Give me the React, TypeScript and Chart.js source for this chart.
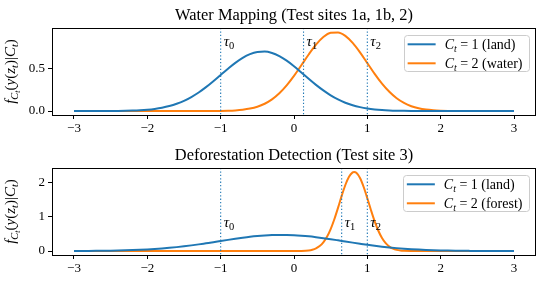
import React, { useEffect, useRef } from 'react';
import { Chart, registerables } from 'chart.js';

Chart.register(...registerables);

// ---------- data ----------
const xGrid = [
  -3.0, -2.9, -2.8, -2.7, -2.6, -2.5, -2.4, -2.3, -2.2, -2.1, -2.0,
  -1.9, -1.8, -1.7, -1.6, -1.5, -1.4, -1.3, -1.2, -1.1, -1.0,
  -0.9, -0.8, -0.7, -0.6, -0.5, -0.4, -0.3, -0.2, -0.1, 0.0,
  0.1, 0.2, 0.3, 0.4, 0.5, 0.6, 0.7, 0.8, 0.9, 1.0,
  1.1, 1.2, 1.3, 1.4, 1.5, 1.6, 1.7, 1.8, 1.9, 2.0,
  2.1, 2.2, 2.3, 2.4, 2.5, 2.6, 2.7, 2.8, 2.9, 3.0,
];

const waterLand = [
  0.0, 0.0001, 0.0001, 0.0003, 0.0005, 0.001, 0.0018, 0.0032, 0.0056, 0.0096, 0.0158,
  0.0252, 0.039, 0.0585, 0.0851, 0.12, 0.165, 0.218, 0.281, 0.351, 0.425,
  0.498, 0.567, 0.626, 0.67, 0.695, 0.699, 0.682, 0.645, 0.592, 0.527,
  0.454, 0.38, 0.308, 0.243, 0.185, 0.137, 0.098, 0.068, 0.046, 0.03,
  0.019, 0.0117, 0.007, 0.004, 0.0023, 0.0012, 0.0006, 0.0003, 0.0002, 0.0001,
  0, 0, 0, 0, 0, 0, 0, 0, 0, 0,
];

const waterWater = [
  0, 0, 0, 0, 0, 0, 0, 0, 0, 0, 0,
  0, 0, 0, 0, 0, 0, 0.0001, 0.0003, 0.0008, 0.0017,
  0.0037, 0.0078, 0.0154, 0.0288, 0.051, 0.086, 0.137, 0.209, 0.302, 0.413,
  0.538, 0.665, 0.781, 0.87, 0.92, 0.925, 0.884, 0.801, 0.69, 0.564,
  0.437, 0.322, 0.226, 0.15, 0.095, 0.057, 0.0324, 0.0176, 0.009, 0.0043,
  0.002, 0.0009, 0.0004, 0.0002, 0, 0, 0, 0, 0, 0,
];

const forestLand = [
  0.0018, 0.0027, 0.0039, 0.0056, 0.0079, 0.011, 0.0151, 0.0204, 0.0271, 0.0357, 0.0463,
  0.0593, 0.0747, 0.093, 0.114, 0.138, 0.165, 0.194, 0.226, 0.258, 0.292,
  0.325, 0.357, 0.387, 0.414, 0.436, 0.453, 0.465, 0.47, 0.468, 0.461,
  0.447, 0.428, 0.403, 0.375, 0.345, 0.312, 0.278, 0.245, 0.213, 0.182,
  0.154, 0.128, 0.105, 0.085, 0.068, 0.054, 0.042, 0.032, 0.024, 0.018,
  0.0133, 0.0096, 0.0069, 0.0049, 0.0034, 0.0023, 0.0016, 0.0011, 0.0007, 0.0004,
];

const forestX = [
  -3, -2, -1, -0.5, -0.1, 0, 0.1, 0.2, 0.25, 0.3,
  0.35, 0.4, 0.45, 0.5, 0.55, 0.6, 0.65, 0.7, 0.75, 0.8,
  0.82, 0.85, 0.9, 0.95, 1.0, 1.05, 1.1, 1.15, 1.2, 1.25,
  1.3, 1.35, 1.4, 1.45, 1.5, 1.6, 1.7, 2, 2.5, 3,
];

const forestForest = [
  0, 0, 0, 0, 0.0001, 0.0005, 0.0035, 0.0188, 0.0396, 0.078,
  0.145, 0.254, 0.416, 0.639, 0.925, 1.256, 1.603, 1.921, 2.163, 2.289,
  2.3, 2.274, 2.123, 1.862, 1.534, 1.187, 0.863, 0.59, 0.378, 0.228,
  0.129, 0.0687, 0.0343, 0.0161, 0.0071, 0.0011, 0.0001, 0, 0, 0,
];

const waterTaus = [-1, 0.13, 1];
const forestTaus = [-1, 0.65, 1];
const tauNames = ['0', '1', '2'];

const xTicks = [-3, -2, -1, 0, 1, 2, 3];
const xTickLabels = ['\u22123', '\u22122', '\u22121', '0', '1', '2', '3'];
const waterYTicks = [0, 0.5];
const waterYTickLabels = ['0.0', '0.5'];
const forestYTicks = [0, 1, 2];
const forestYTickLabels = ['0', '1', '2'];

const waterTitle = 'Water Mapping (Test sites 1a, 1b, 2)';
const forestTitle = 'Deforestation Detection (Test site 3)';
const waterClassNames = ['land', 'water'];
const forestClassNames = ['land', 'forest'];

// ---------- styling ----------
const BLUE = '#1f77b4';
const ORANGE = '#ff7f0e';
const SERIF = '"Liberation Serif", "Times New Roman", serif';
const W = 545;
const H = 143;

type Seg = { t: string; it?: boolean; lv?: number };

function segSize(seg: Seg, size: number) {
  return seg.lv === 1 ? size * 0.7 : seg.lv === 2 ? size * 0.52 : size;
}
function segFont(seg: Seg, size: number) {
  return `${seg.it ? 'italic ' : ''}${segSize(seg, size)}px ${SERIF}`;
}
function segDy(seg: Seg, size: number) {
  return seg.lv === 1 ? size * 0.2 : seg.lv === 2 ? size * 0.36 : 0;
}
function richWidth(ctx: CanvasRenderingContext2D, segs: Seg[], size: number) {
  let w = 0;
  for (const s of segs) {
    ctx.font = segFont(s, size);
    w += ctx.measureText(s.t).width;
  }
  return w;
}
function drawRich(ctx: CanvasRenderingContext2D, segs: Seg[], x: number, y: number, size: number) {
  let cx = x;
  ctx.textBaseline = 'alphabetic';
  ctx.textAlign = 'left';
  for (const s of segs) {
    ctx.font = segFont(s, size);
    ctx.fillText(s.t, cx, y + segDy(s, size));
    cx += ctx.measureText(s.t).width;
  }
  return cx - x;
}

const yLabelSegs: Seg[] = [
  { t: 'f', it: true },
  { t: 'C', it: true, lv: 1 },
  { t: 't', it: true, lv: 2 },
  { t: '(' },
  { t: 'y', it: true },
  { t: '(' },
  { t: 'z', it: true },
  { t: 't', it: true, lv: 1 },
  { t: ')' },
  { t: '|' },
  { t: 'C', it: true },
  { t: 't', it: true, lv: 1 },
  { t: ')' },
];

type Series = { x: number[]; y: number[]; cls: number; name: string; color: string };
type PanelCfg = {
  title: string;
  series: Series[];
  taus: number[];
  tauLabelY: number;
  yMin: number;
  yMax: number;
  yTicks: number[];
  yTickLabels: string[];
  padTop: number;
  xAxisH: number;
};

const panels: PanelCfg[] = [
  {
    title: waterTitle,
    series: [
      { x: xGrid, y: waterLand, cls: 1, name: waterClassNames[0], color: BLUE },
      { x: xGrid, y: waterWater, cls: 2, name: waterClassNames[1], color: ORANGE },
    ],
    taus: waterTaus,
    tauLabelY: 0.77,
    yMin: -0.0465,
    yMax: 0.9765,
    yTicks: waterYTicks,
    yTickLabels: waterYTickLabels,
    padTop: 28,
    xAxisH: 28,
  },
  {
    title: forestTitle,
    series: [
      { x: xGrid, y: forestLand, cls: 1, name: forestClassNames[0], color: BLUE },
      { x: forestX, y: forestForest, cls: 2, name: forestClassNames[1], color: ORANGE },
    ],
    taus: forestTaus,
    tauLabelY: 0.71,
    yMin: -0.115,
    yMax: 2.415,
    yTicks: forestYTicks,
    yTickLabels: forestYTickLabels,
    padTop: 25,
    xAxisH: 31,
  },
];

function makeConfig(p: PanelCfg): any {
  const tickFont = { family: SERIF, size: 13 };
  const decoPlugin = {
    id: 'deco',
    afterDatasetsDraw(chart: any) {
      const ctx: CanvasRenderingContext2D = chart.ctx;
      const { top, bottom } = chart.chartArea;
      const xs = chart.scales.x;
      ctx.save();
      ctx.strokeStyle = BLUE;
      ctx.lineWidth = 1.1;
      ctx.setLineDash([1.3, 2.1]);
      for (const t of p.taus) {
        const px = xs.getPixelForValue(t);
        ctx.beginPath();
        ctx.moveTo(px, top);
        ctx.lineTo(px, bottom);
        ctx.stroke();
      }
      ctx.restore();
    },
    afterDraw(chart: any) {
      const ctx: CanvasRenderingContext2D = chart.ctx;
      const { left, right, top, bottom } = chart.chartArea;
      const xs = chart.scales.x;
      const ys = chart.scales.y;
      ctx.save();
      ctx.fillStyle = '#000';

      // tau labels
      const ty = ys.getPixelForValue(p.tauLabelY);
      p.taus.forEach((t, i) => {
        const px = xs.getPixelForValue(t);
        drawRich(ctx, [{ t: '\u03c4', it: true }, { t: tauNames[i], lv: 1 }], px + 3, ty, 15);
      });

      // axes frame
      ctx.strokeStyle = '#000';
      ctx.lineWidth = 1;
      ctx.strokeRect(Math.round(left) + 0.5, Math.round(top) + 0.5, Math.round(right - left) - 1, Math.round(bottom - top));

      // legend
      const fs = 14;
      const rows = p.series.map((s) => [
        { t: 'C', it: true },
        { t: 't', it: true, lv: 1 },
        { t: ` = ${s.cls} (${s.name})` },
      ] as Seg[]);
      const tw = Math.max(...rows.map((r) => richWidth(ctx, r, fs)));
      const boxW = 4 + 28 + 9 + tw + 6.5;
      const boxH = 36;
      const bx = right - 7 - boxW;
      const by = top + 6.5;
      ctx.beginPath();
      (ctx as any).roundRect(Math.round(bx) + 0.5, Math.round(by) + 0.5, Math.round(boxW), boxH, 3);
      ctx.fillStyle = 'rgba(255,255,255,0.8)';
      ctx.fill();
      ctx.strokeStyle = '#cccccc';
      ctx.lineWidth = 1;
      ctx.stroke();
      rows.forEach((r, i) => {
        const ry = by + 9.8 + i * 19;
        ctx.strokeStyle = p.series[i].color;
        ctx.lineWidth = 2;
        ctx.beginPath();
        ctx.moveTo(bx + 4, ry);
        ctx.lineTo(bx + 32, ry);
        ctx.stroke();
        ctx.fillStyle = '#000';
        drawRich(ctx, r, bx + 41, ry + 4.5, fs);
      });

      // title
      ctx.fillStyle = '#000';
      ctx.font = `16.4px ${SERIF}`;
      ctx.textAlign = 'center';
      ctx.textBaseline = 'alphabetic';
      ctx.fillText(p.title, (left + right) / 2, top - 8);

      // y label (rotated)
      const ls = 15;
      const lw = richWidth(ctx, yLabelSegs, ls);
      ctx.translate(15, (top + bottom) / 2);
      ctx.rotate(-Math.PI / 2);
      drawRich(ctx, yLabelSegs, -lw / 2, 0, ls);
      ctx.restore();
    },
  };

  return {
    type: 'line',
    data: {
      datasets: p.series.map((s) => ({
        label: `C_t = ${s.cls} (${s.name})`,
        data: s.x.map((x, i) => ({ x, y: s.y[i] })),
        borderColor: s.color,
        backgroundColor: s.color,
        borderWidth: 2,
        pointRadius: 0,
        fill: false,
        cubicInterpolationMode: 'monotone',
      })),
    },
    options: {
      animation: false,
      responsive: false,
      devicePixelRatio: 1,
      events: [],
      layout: { padding: { top: p.padTop, right: W - 536, bottom: 0, left: 0 } },
      plugins: {
        legend: { display: false },
        title: { display: false },
        tooltip: { enabled: false },
      },
      scales: {
        x: {
          type: 'linear',
          min: -3.3,
          max: 3.3,
          afterBuildTicks: (s: any) => {
            s.ticks = xTicks.map((v) => ({ value: v }));
          },
          afterFit: (s: any) => {
            s.height = p.xAxisH;
          },
          ticks: {
            autoSkip: false,
            maxRotation: 0,
            color: '#000',
            font: tickFont,
            padding: 2,
            callback: (_v: any, i: number) => xTickLabels[i],
          },
          grid: { drawOnChartArea: false, drawTicks: true, tickLength: 4, tickColor: '#000', tickWidth: 1 },
          border: { display: false },
        },
        y: {
          type: 'linear',
          min: p.yMin,
          max: p.yMax,
          afterBuildTicks: (s: any) => {
            s.ticks = p.yTicks.map((v) => ({ value: v }));
          },
          afterFit: (s: any) => {
            s.width = 52;
          },
          ticks: {
            autoSkip: false,
            color: '#000',
            font: tickFont,
            padding: 3,
            callback: (_v: any, i: number) => p.yTickLabels[i],
          },
          grid: { drawOnChartArea: false, drawTicks: true, tickLength: 4, tickColor: '#000', tickWidth: 1 },
          border: { display: false },
        },
      },
    },
    plugins: [decoPlugin],
  };
}

function PanelChart({ cfg }: { cfg: PanelCfg }) {
  const ref = useRef<HTMLCanvasElement | null>(null);
  useEffect(() => {
    if (!ref.current) return;
    const chart = new Chart(ref.current, makeConfig(cfg));
    return () => chart.destroy();
  }, [cfg]);
  return <canvas ref={ref} width={W} height={H} style={{ display: 'block', width: W, height: H }} />;
}

export default function App() {
  useEffect(() => {
    document.body.style.margin = '0';
    document.body.style.background = '#fff';
  }, []);
  return (
    <div style={{ width: W, height: 2 * H, background: '#fff' }}>
      {panels.map((p, i) => (
        <PanelChart key={i} cfg={p} />
      ))}
    </div>
  );
}
